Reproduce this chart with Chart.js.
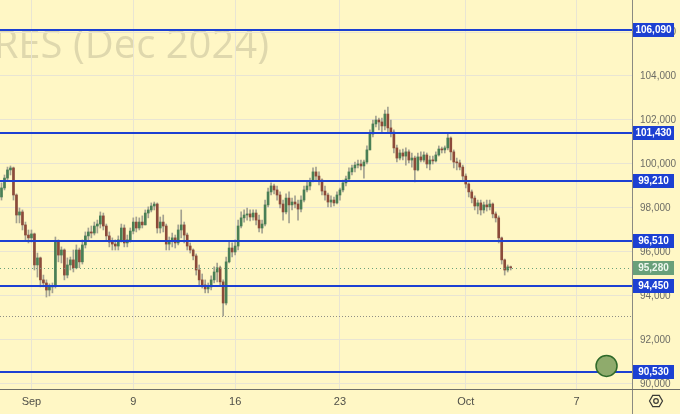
<!DOCTYPE html>
<html>
<head>
<meta charset="utf-8">
<script src="https://cdn.jsdelivr.net/npm/chart.js@4.4.1/dist/chart.umd.min.js"></script>
<style>
  html, body { margin: 0; padding: 0; background: #fff7c5; }
  #wrap { width: 680px; height: 414px; }
</style>
</head>
<body>
<div id="wrap"><canvas id="chart" width="680" height="414"></canvas></div>
<script>
  // 2h bars, Aug 30 .. Oct 3
  const opens = [
    98500, 98910, 99360, 99730, 99820, 98590, 97680, 97820, 97230, 96770,
    96640, 96820, 95410, 95730, 94730, 94590, 94270, 94410, 94450, 96450,
    95860, 96090, 94950, 95410, 95640, 95280, 96090, 95550, 96320, 96730,
    96910, 96860, 97180, 97270, 97640, 97180, 96730, 96450, 96360, 96270,
    96550, 97090, 96410, 96550, 96950, 97360, 97090, 97360, 97230, 97770,
    97910, 98090, 98180, 97090, 97360, 97180, 96360, 96500, 96640, 96410,
    97000, 97230, 96770, 96270, 96090, 95820, 95180, 94730, 94500, 94320,
    94410, 94730, 95090, 95280, 94640, 93680, 95550, 96180, 96000, 96270,
    97180, 97550, 97680, 97730, 97590, 97770, 97450, 97090, 97270, 98140,
    98730, 99000, 98820, 98590, 98180, 97820, 98450, 98140, 98270, 98180,
    97950, 98360, 98820, 99000, 99230, 99640, 99450, 99270, 98770, 98590,
    98270, 98360, 98230, 98590, 98820, 99140, 99320, 99640, 99820, 99950,
    100000, 99910, 100090, 100640, 101360, 101820, 102000, 101910, 101730, 102270,
    101640, 101450, 100730, 100270, 100500, 100360, 100550, 100180, 100270, 99730,
    100320, 100180, 100410, 100000, 100180, 100140, 100410, 100680, 100640, 100730,
    101180, 100550, 100090, 100050, 99860, 99450, 99090, 98730, 98450, 98090,
    98230, 97910, 98140, 98050, 98180, 97730, 97550, 96640, 95640, 95180,
    95320
  ];
  const highs = [
    99140, 99500, 99860, 99910, 99860, 98640, 98000, 97910, 97360, 97000,
    97000, 96860, 95950, 95770, 94950, 94730, 94550, 94590, 96680, 96550,
    96230, 96140, 95730, 95770, 96090, 96320, 96180, 96550, 96910, 97090,
    97180, 97360, 97450, 97820, 97770, 97270, 96910, 96640, 96550, 96730,
    97270, 97230, 96770, 97090, 97550, 97590, 97550, 97640, 97910, 98050,
    98230, 98270, 98230, 97590, 97680, 97270, 96680, 96860, 96770, 97230,
    97910, 97360, 96860, 96410, 96140, 95910, 95410, 95000, 94730, 94590,
    94910, 95320, 95500, 95360, 94730, 95770, 96450, 96410, 96550, 97450,
    97820, 97910, 98000, 97910, 97910, 97910, 97680, 97450, 98360, 98910,
    99140, 99090, 99000, 98730, 98360, 98640, 98730, 98450, 98550, 98360,
    98550, 99000, 99230, 99360, 99820, 99860, 99640, 99320, 99000, 98680,
    98550, 98500, 98730, 98910, 99270, 99450, 99820, 99950, 100090, 100180,
    100180, 100180, 100820, 101550, 102000, 102180, 102090, 102090, 102450, 102590,
    102000, 101550, 100860, 100640, 100680, 100730, 100640, 100500, 100360, 100500,
    100550, 100550, 100500, 100360, 100360, 100550, 100820, 100770, 100820, 101410,
    101230, 100640, 100270, 100180, 99950, 99550, 99140, 98820, 98550, 98360,
    98360, 98270, 98360, 98360, 98230, 97820, 97640, 96680, 95680, 95410,
    95360
  ];
  const lows = [
    98360, 98820, 99270, 99500, 98360, 97320, 97320, 97000, 96550, 96410,
    96450, 95180, 94860, 94410, 94410, 93950, 94000, 94140, 94360, 95550,
    95500, 94730, 94820, 95180, 95090, 95230, 95280, 95450, 96180, 96550,
    96640, 96770, 96860, 97090, 97000, 96550, 96230, 96090, 96090, 96090,
    96450, 96230, 96230, 96450, 96820, 96910, 97000, 97090, 97230, 97550,
    97820, 97910, 96860, 96860, 96910, 96090, 96090, 96230, 96180, 96320,
    96640, 96410, 96090, 95950, 95640, 94950, 94500, 94360, 94140, 94140,
    94270, 94590, 94640, 94500, 93090, 93590, 95500, 95770, 95860, 96090,
    97090, 97360, 97450, 97410, 97450, 97230, 96910, 96860, 97180, 98050,
    98590, 98640, 98360, 98000, 97450, 97730, 97320, 97910, 98000, 97450,
    97820, 98270, 98730, 98820, 99180, 99270, 99050, 98590, 98360, 98050,
    98050, 98090, 98180, 98360, 98730, 99000, 99270, 99500, 99640, 99820,
    99730, 99360, 100000, 100640, 101230, 101680, 101550, 101410, 101550, 101410,
    101230, 100500, 100090, 100180, 100180, 99950, 100050, 99860, 99180, 99680,
    100090, 100090, 99820, 99730, 100000, 100090, 100360, 100500, 100500, 100640,
    100180, 99820, 99730, 99730, 99270, 98910, 98500, 98230, 97910, 97730,
    97680, 97770, 97860, 97910, 97550, 97360, 96410, 95450, 94950, 95090,
    95180
  ];
  const closes = [
    98910, 99360, 99730, 99820, 98590, 97680, 97820, 97230, 96770, 96640,
    96820, 95410, 95730, 94730, 94590, 94270, 94410, 94450, 96450, 95860,
    96090, 94950, 95410, 95640, 95280, 96090, 95550, 96320, 96730, 96910,
    96860, 97180, 97270, 97640, 97180, 96730, 96450, 96360, 96270, 96550,
    97090, 96410, 96550, 96950, 97360, 97090, 97360, 97230, 97770, 97910,
    98090, 98180, 97090, 97360, 97180, 96360, 96500, 96640, 96410, 97000,
    97230, 96770, 96270, 96090, 95820, 95180, 94730, 94500, 94320, 94410,
    94730, 95090, 95280, 94640, 93680, 95550, 96180, 96000, 96270, 97180,
    97550, 97680, 97730, 97590, 97770, 97450, 97090, 97270, 98140, 98730,
    99000, 98820, 98590, 98180, 97820, 98450, 98140, 98270, 98180, 97950,
    98360, 98820, 99000, 99230, 99640, 99450, 99270, 98770, 98590, 98270,
    98360, 98230, 98590, 98820, 99140, 99320, 99640, 99820, 99950, 100000,
    99910, 100090, 100640, 101360, 101820, 102000, 101910, 101730, 102270, 101640,
    101450, 100730, 100270, 100500, 100360, 100550, 100180, 100270, 99730, 100320,
    100180, 100410, 100000, 100180, 100140, 100410, 100680, 100640, 100730, 101180,
    100550, 100090, 100050, 99860, 99450, 99090, 98730, 98450, 98090, 98230,
    97910, 98140, 98050, 98180, 97730, 97550, 96640, 95640, 95180, 95320,
    95280
  ];

  const totalBars = 211;                       // includes empty future slots
  const tickBars = [10, 44, 78, 113, 155, 192];
  const tickLabels = ["Sep", "9", "16", "23", "Oct", "7"];
  const yTicks = [90000, 92000, 94000, 96000, 98000, 100000, 102000, 104000, 106000];
  const levels = [106090, 101430, 99210, 96510, 94450, 90530];
  const lastPrice = 95280;
  const rangeLow = 93090;
  const targetBar = 202;
  const targetPrice = 90820;
  const yMin = 89770;
  const yMax = 107455;

  const BG = "#fff7c5";
  const GRID = "#e9e5d3";
  const UP = "#4a7f55";
  const DOWN = "#8c4b3a";
  const WICK = "#a3a190";
  const BLUE = "#1c40d2";
  const LAST = "#69a07a";

  const fmt = (v) => v.toLocaleString("en-US");
  const labels = Array.from({ length: totalBars }, (_, i) => i);
  const wicks = lows.map((l, i) => [l, highs[i]]);
  const bodies = opens.map((o, i) => [o, closes[i]]);
  const bodyColors = opens.map((o, i) => (closes[i] >= o ? UP : DOWN));

  function noPad(s) {
    s.paddingTop = 0;
    s.paddingBottom = 0;
    s.paddingLeft = 0;
    s.paddingRight = 0;
  }

  function priceBox(ctx, x, y, text, fill, color) {
    ctx.fillStyle = fill;
    ctx.fillRect(x, Math.round(y) - 7, 41, 14);
    ctx.fillStyle = color;
    ctx.font = 'bold 10px "Liberation Sans", Arial, sans-serif';
    ctx.textAlign = "center";
    ctx.textBaseline = "middle";
    ctx.fillText(text, x + 20.5, Math.round(y) + 0.5);
  }

  const overlay = {
    id: "overlay",
    beforeDraw(chart) {
      const { ctx, width, height } = chart;
      ctx.save();
      ctx.fillStyle = BG;
      ctx.fillRect(0, 0, width, height);
      // symbol watermark
      ctx.font = '40px "Open Sans", "Liberation Sans", sans-serif';
      ctx.fillStyle = "rgba(110,110,90,0.22)";
      ctx.textAlign = "right";
      ctx.textBaseline = "alphabetic";
      ctx.fillText("RES (Dec 2024)", 269, 58);
      ctx.restore();
    },
    afterDatasetsDraw(chart) {
      const { ctx, chartArea } = chart;
      const y = chart.scales.y;
      const x = chart.scales.x;
      ctx.save();
      // low-of-range and last-price dotted lines
      ctx.lineWidth = 1;
      ctx.setLineDash([1, 2]);
      ctx.strokeStyle = "#8f8f86";
      let py = Math.round(y.getPixelForValue(rangeLow)) + 0.5;
      ctx.beginPath(); ctx.moveTo(chartArea.left, py); ctx.lineTo(chartArea.right, py); ctx.stroke();
      ctx.setLineDash([1, 3]);
      ctx.strokeStyle = LAST;
      py = Math.round(y.getPixelForValue(lastPrice)) + 0.5;
      ctx.beginPath(); ctx.moveTo(chartArea.left, py); ctx.lineTo(chartArea.right, py); ctx.stroke();
      ctx.setLineDash([]);
      // horizontal levels
      ctx.strokeStyle = BLUE;
      ctx.lineWidth = 2;
      levels.forEach((v) => {
        const ly = Math.round(y.getPixelForValue(v));
        ctx.beginPath(); ctx.moveTo(chartArea.left, ly); ctx.lineTo(chartArea.right, ly); ctx.stroke();
      });
      // target marker
      const cx = x.getPixelForValue(targetBar);
      const cy = y.getPixelForValue(targetPrice);
      ctx.beginPath();
      ctx.arc(cx, cy, 10.5, 0, Math.PI * 2);
      ctx.fillStyle = "#8fab6c";
      ctx.fill();
      ctx.lineWidth = 1.5;
      ctx.strokeStyle = "#2f6a2a";
      ctx.stroke();
      ctx.restore();
    },
    afterDraw(chart) {
      const { ctx, chartArea, width, height } = chart;
      const y = chart.scales.y;
      ctx.save();
      // axis borders
      ctx.lineWidth = 1;
      ctx.strokeStyle = "#8a8a82";
      ctx.beginPath();
      ctx.moveTo(chartArea.right + 0.5, 0); ctx.lineTo(chartArea.right + 0.5, height);
      ctx.stroke();
      ctx.strokeStyle = "#6f6f68";
      ctx.beginPath();
      ctx.moveTo(0, chartArea.bottom + 0.5); ctx.lineTo(width, chartArea.bottom + 0.5);
      ctx.stroke();
      // price labels on the axis
      const bx = chartArea.right + 1;
      levels.forEach((v) => priceBox(ctx, bx, y.getPixelForValue(v), fmt(v), BLUE, "#ffffff"));
      priceBox(ctx, bx, y.getPixelForValue(lastPrice), fmt(lastPrice), LAST, "#eef7ee");
      // settings glyph
      const gx = 656, gy = 401;
      ctx.strokeStyle = "#3a3a36";
      ctx.lineWidth = 1.2;
      ctx.beginPath();
      for (let k = 0; k < 6; k++) {
        const a = (Math.PI / 3) * k;
        const px = gx + 6.5 * Math.cos(a), pyy = gy + 6.5 * Math.sin(a);
        if (k === 0) ctx.moveTo(px, pyy); else ctx.lineTo(px, pyy);
      }
      ctx.closePath();
      ctx.stroke();
      ctx.beginPath();
      ctx.arc(gx, gy, 2.3, 0, Math.PI * 2);
      ctx.stroke();
      ctx.restore();
    },
  };

  Chart.defaults.font.family = '"Liberation Sans", Arial, sans-serif';

  new Chart(document.getElementById("chart"), {
    type: "bar",
    data: {
      labels,
      datasets: [
        {
          label: "wick",
          data: wicks,
          backgroundColor: WICK,
          barThickness: 1,
          grouped: false,
          order: 2,
        },
        {
          label: "body",
          data: bodies,
          backgroundColor: bodyColors,
          barThickness: 2,
          minBarLength: 1,
          grouped: false,
          order: 1,
        },
      ],
    },
    options: {
      responsive: false,
      devicePixelRatio: 1,
      animation: false,
      layout: { padding: 0 },
      plugins: { legend: { display: false }, tooltip: { enabled: false } },
      scales: {
        x: {
          grid: {
            offset: false,
            drawTicks: false,
            color: (c) => (tickBars.includes(c.index) ? GRID : "transparent"),
          },
          border: { display: false },
          ticks: {
            autoSkip: false,
            maxRotation: 0,
            padding: 6,
            color: "#4f4f48",
            font: { size: 11 },
            callback: (v, i) => {
              const k = tickBars.indexOf(i);
              return k >= 0 ? tickLabels[k] : "";
            },
          },
          afterFit: (s) => { s.height = 25; noPad(s); },
        },
        y: {
          position: "right",
          min: yMin,
          max: yMax,
          grid: { color: GRID, drawTicks: false },
          border: { display: false },
          afterBuildTicks: (s) => { s.ticks = yTicks.map((v) => ({ value: v })); },
          ticks: {
            padding: 8,
            color: "#6d6d66",
            font: { size: 10 },
            callback: (v) => fmt(v),
          },
          afterFit: (s) => { s.width = 48; noPad(s); },
        },
      },
    },
    plugins: [overlay],
  });
</script>
</body>
</html>
